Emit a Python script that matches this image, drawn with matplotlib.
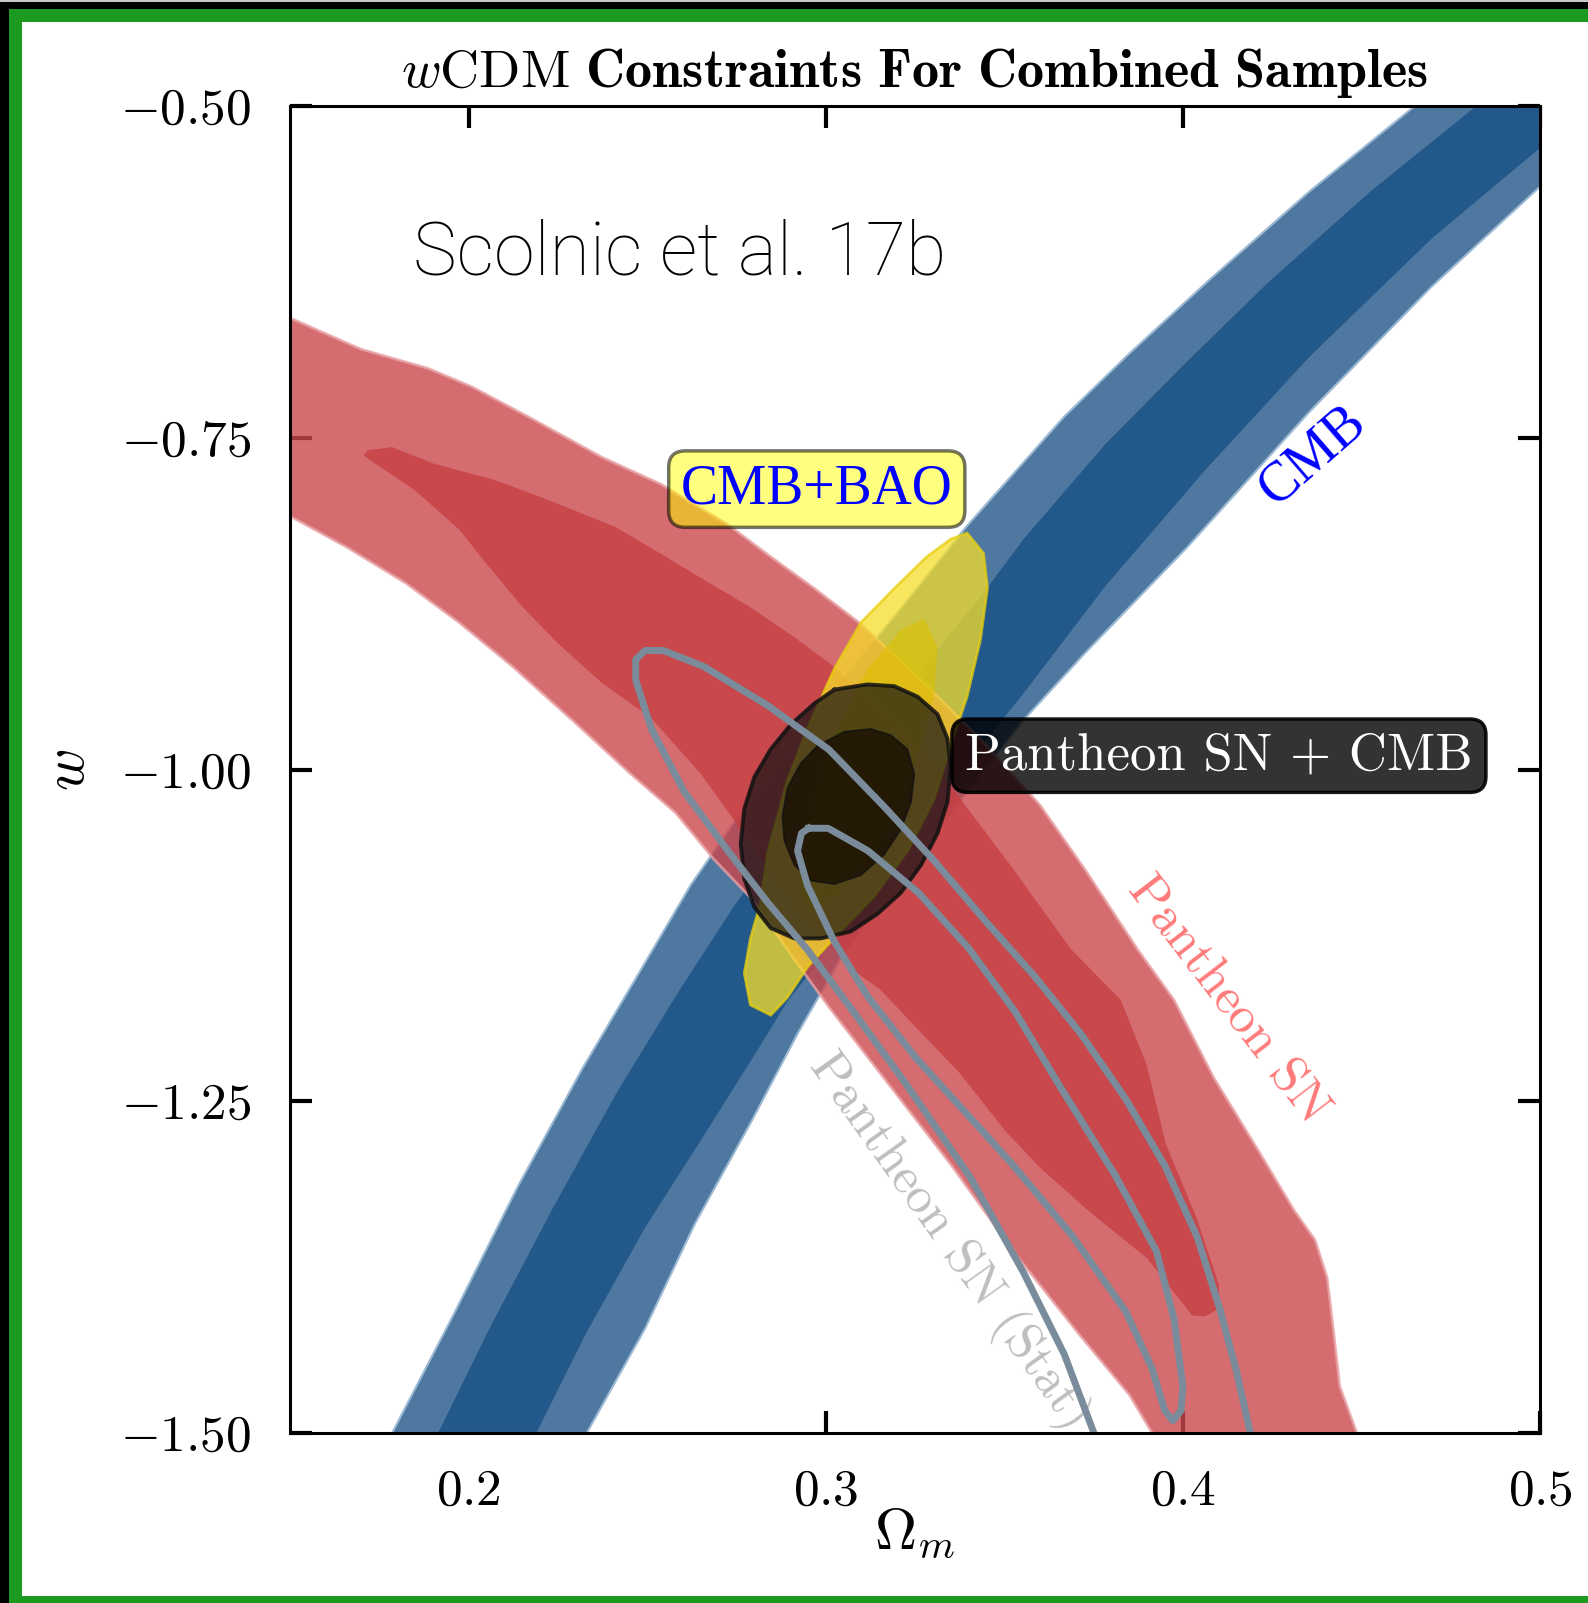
import matplotlib
matplotlib.use('Agg')
import matplotlib.pyplot as plt
from matplotlib.patches import Rectangle

plt.rcParams['mathtext.fontset'] = 'cm'
plt.rcParams['font.family'] = ['cmr10', 'DejaVu Sans']
plt.rcParams['axes.formatter.use_mathtext'] = True

# ---------------- data (Omega_m, w) contour boundaries ----------------
cmb_outer_om = [0.1749, 0.1786, 0.1964, 0.2139, 0.2319, 0.2480, 0.2623, 0.2752, 0.2895, 0.3038, 0.3210,
                0.3393, 0.3668, 0.3851, 0.4078, 0.4353, 0.4639, 0.4699, 0.52, 0.5071, 0.5000, 0.4696,
                0.4353, 0.4012, 0.3725, 0.3554, 0.3359, 0.3181, 0.3038, 0.2923, 0.2795, 0.2634, 0.2494,
                0.2331, 0.2293]
cmb_outer_w = [-1.5215, -1.5, -1.4076, -1.3137, -1.2252, -1.1520, -1.0866, -1.0365, -0.9865, -0.9349, -0.8787,
               -0.8172, -0.7340, -0.6863, -0.6301, -0.5647, -0.5023, -0.4885, -0.48, -0.5439, -0.5608, -0.6363,
               -0.7309, -0.8326, -0.9126, -0.9627, -1.0296, -1.0904, -1.1443, -1.1982, -1.2637, -1.3422, -1.4214,
               -1.5, -1.5215]

cmb_inner_om = [0.1878, 0.1915, 0.2061, 0.2236, 0.2416, 0.2588, 0.2740, 0.2923, 0.3095, 0.3267, 0.3439,
                0.3554, 0.3783, 0.4012, 0.4238, 0.4524, 0.4811, 0.4871, 0.52, 0.5043, 0.5000, 0.4696,
                0.4353, 0.4066, 0.3783, 0.3554, 0.3353, 0.3181, 0.3038, 0.2892, 0.2795, 0.2646, 0.2494,
                0.2331, 0.2190, 0.2150]
cmb_inner_w = [-1.5215, -1.5, -1.4199, -1.3306, -1.2429, -1.1674, -1.1043, -1.0365, -0.9788, -0.9249, -0.8680,
               -0.8264, -0.7548, -0.6925, -0.6332, -0.5647, -0.5023, -0.4885, -0.48, -0.5208, -0.5316, -0.6001,
               -0.6894, -0.7733, -0.8618, -0.9426, -1.0096, -1.0712, -1.1251, -1.1751, -1.2175, -1.2813, -1.3453,
               -1.4238, -1.5, -1.5215]

sn_outer_om = [0.1434, 0.1503, 0.1698, 0.1887, 0.2010, 0.2187, 0.2374, 0.2537, 0.2723, 0.2849, 0.2975,
               0.3098, 0.3267, 0.3439, 0.3599, 0.3725, 0.3874, 0.3975, 0.4086, 0.4212, 0.4313, 0.4370,
               0.4404, 0.4421, 0.4439, 0.4487, 0.4527, 0.3955, 0.3914, 0.3851, 0.3711, 0.3525, 0.3350,
               0.3175, 0.3009, 0.2903, 0.2795, 0.2686, 0.2580, 0.2448, 0.2293, 0.2124, 0.1975, 0.1824,
               0.1660, 0.1503, 0.1434]
sn_outer_w = [-0.6524, -0.6601, -0.6832, -0.6978, -0.7117, -0.7371, -0.7648, -0.7848, -0.8149, -0.8403, -0.8649,
              -0.8903, -0.9326, -0.9788, -1.0265, -1.0750, -1.1359, -1.1736, -1.2321, -1.2875, -1.3329, -1.3545,
              -1.3830, -1.4214, -1.4646, -1.5, -1.5292, -1.5292, -1.5, -1.4715, -1.4261, -1.3630, -1.2975,
              -1.2367, -1.1790, -1.1397, -1.0981, -1.0674, -1.0327, -1.0019, -0.9634, -0.9226, -0.8895, -0.8595,
              -0.8326, -0.8095, -0.7995]

sn_inner_om = [0.1706, 0.1718, 0.1786, 0.1901, 0.2073, 0.2225, 0.2411, 0.2537, 0.2660, 0.2786, 0.2912,
               0.3024, 0.3181, 0.3353, 0.3525, 0.3688, 0.3826, 0.3900, 0.3952, 0.4038, 0.4101, 0.4101,
               0.4063, 0.4026, 0.3900, 0.3737, 0.3599, 0.3502, 0.3376, 0.3250, 0.3153, 0.3061, 0.2923,
               0.2780, 0.2651, 0.2511, 0.2374, 0.2250, 0.2150, 0.2050, 0.1975, 0.1849, 0.1738]
sn_inner_w = [-0.7633, -0.7594, -0.7571, -0.7694, -0.7818, -0.7971, -0.8172, -0.8372, -0.8572, -0.8772, -0.9003,
              -0.9226, -0.9596, -1.0135, -1.0750, -1.1359, -1.1736, -1.2236, -1.2821, -1.3375, -1.3883, -1.4061,
              -1.4122, -1.4114, -1.3683, -1.3329, -1.2998, -1.2721, -1.2290, -1.1936, -1.1659, -1.1482, -1.1058,
              -1.0520, -1.0035, -0.9611, -0.9349, -0.9049, -0.8772, -0.8449, -0.8195, -0.7894, -0.7694]

bao_outer_om = [0.3396, 0.3442, 0.3453, 0.3433, 0.3396, 0.3350, 0.3304, 0.3230, 0.3135, 0.3041, 0.2949,
                0.2892, 0.2846, 0.2789, 0.2772, 0.2789, 0.2817, 0.2838, 0.2892, 0.2949, 0.3024, 0.3098,
                0.3193, 0.3284, 0.3350]
bao_outer_w = [-0.8218, -0.8372, -0.8633, -0.9026, -0.9449, -0.9819, -1.0219, -1.0612, -1.0958, -1.1220, -1.1489,
               -1.1720, -1.1851, -1.1774, -1.1536, -1.1274, -1.1012, -1.0620, -1.0088, -0.9688, -0.9242, -0.8895,
               -0.8633, -0.8395, -0.8264]

bao_inner_om = [0.3276, 0.3313, 0.3304, 0.3267, 0.3210, 0.3124, 0.3024, 0.2952, 0.2923, 0.2938, 0.2981,
                0.3038, 0.3118, 0.3210]
bao_inner_w = [-0.8864, -0.9080, -0.9426, -0.9827, -1.0289, -1.0674, -1.0981, -1.1074, -1.0904, -1.0520, -1.0058,
               -0.9634, -0.9242, -0.8949]

comb_outer_om = [0.3024, 0.3117, 0.3192, 0.3257, 0.3313, 0.3341, 0.3350, 0.3341, 0.3313, 0.3267, 0.3210,
                 0.3145, 0.3070, 0.2986, 0.2912, 0.2846, 0.2800, 0.2772, 0.2762, 0.2772, 0.2800, 0.2846,
                 0.2902, 0.2968]
comb_outer_w = [-0.9398, -0.9359, -0.9372, -0.9451, -0.9583, -0.9767, -0.9979, -1.0244, -1.0481, -1.0719, -1.0930,
                -1.1088, -1.1221, -1.1273, -1.1273, -1.1195, -1.1036, -1.0824, -1.0560, -1.0296, -1.0058, -0.9847,
                -0.9662, -0.9503]

comb_inner_om = [0.2977, 0.3052, 0.3126, 0.3182, 0.3229, 0.3248, 0.3239, 0.3210, 0.3164, 0.3098, 0.3024,
                 0.2958, 0.2912, 0.2884, 0.2879, 0.2893, 0.2930]
comb_inner_w = [-0.9821, -0.9715, -0.9694, -0.9741, -0.9847, -1.0032, -1.0244, -1.0454, -1.0640, -1.0797, -1.0864,
                -1.0837, -1.0719, -1.0534, -1.0349, -1.0138, -0.9953]

stat_outer_om = [0.3797, 0.3751, 0.3668, 0.3554, 0.3405, 0.3224, 0.3072, 0.2949, 0.2838, 0.2726, 0.2603,
                 0.2511, 0.2468, 0.2468, 0.2494, 0.2545, 0.2660, 0.2838, 0.3009, 0.3164, 0.3304, 0.3445,
                 0.3585, 0.3714, 0.3840, 0.3949, 0.4040, 0.4103, 0.4149, 0.4189, 0.4206]
stat_outer_w = [-1.5292, -1.5, -1.4407, -1.3791, -1.3075, -1.2367, -1.1805, -1.1359, -1.1004, -1.0612, -1.0165,
                -0.9688, -0.9326, -0.9172, -0.9103, -0.9103, -0.9226, -0.9519, -0.9850, -1.0281, -1.0689, -1.1135,
                -1.1559, -1.1990, -1.2483, -1.2983, -1.3522, -1.4061, -1.4522, -1.5, -1.5292]

stat_inner_om = [0.2952, 0.3007, 0.3118, 0.3259, 0.3399, 0.3531, 0.3651, 0.3811, 0.3926, 0.3975, 0.4000,
                 0.3995, 0.3972, 0.3949, 0.3914, 0.3840, 0.3688, 0.3525, 0.3396, 0.3253, 0.3118, 0.3024,
                 0.2949, 0.2921, 0.2932, 0.2952]
stat_inner_w = [-1.0443, -1.0443, -1.0612, -1.0927, -1.1343, -1.1828, -1.2367, -1.3060, -1.3630, -1.4138, -1.4646,
                -1.4830, -1.4907, -1.4830, -1.4515, -1.4084, -1.3506, -1.2983, -1.2598, -1.2175, -1.1713, -1.1297,
                -1.0874, -1.0612, -1.0481, -1.0443]

x_ticks = [0.2, 0.3, 0.4, 0.5]
x_ticklabels = [r'$0.2$', r'$0.3$', r'$0.4$', r'$0.5$']
y_ticks = [-0.5, -0.75, -1.0, -1.25, -1.5]
y_ticklabels = [r'$-0.50$', r'$-0.75$', r'$-1.00$', r'$-1.25$', r'$-1.50$']

# ---------------- figure ----------------
W, H = 1588, 1603
fig = plt.figure(figsize=(W / 100, H / 100), dpi=100)
fig.patch.set_facecolor('white')

green = '#1b9a1f'
def frect(x0, y0, x1, y1, color):
    fig.add_artist(Rectangle((x0 / W, 1 - y1 / H), (x1 - x0) / W, (y1 - y0) / H,
                             transform=fig.transFigure, facecolor=color, edgecolor='none', zorder=0))
frect(0, 0, W, 2, '#c8c8c8')
frect(0, 2, W, 9, 'black')
frect(0, 2, 9, H, 'black')
frect(9, 9, W, 22, green)
frect(9, 9, 22, H, green)
frect(9, H - 7, W, H, green)

ax = fig.add_axes([290 / W, 1 - 1433 / H, 1250 / W, 1327 / H])
ax.set_xlim(0.15, 0.5)
ax.set_ylim(-1.5, -0.5)

# CMB
ax.fill(cmb_outer_om, cmb_outer_w, facecolor='#4f78a0', edgecolor='#9cb9d3', lw=1.5, zorder=2)
ax.fill(cmb_inner_om, cmb_inner_w, facecolor='#23588a', edgecolor='none', zorder=2.1)
# Pantheon SN
ax.fill(sn_outer_om, sn_outer_w, facecolor='#ca474c', alpha=0.8, edgecolor='#e8a0a3', lw=2, zorder=3)
ax.fill(sn_inner_om, sn_inner_w, facecolor='#c53f43', alpha=0.8, edgecolor='none', zorder=3.1)
# CMB+BAO
ax.fill(bao_outer_om, bao_outer_w, facecolor='#f7de2a', alpha=0.75, edgecolor='#e8cf10', lw=2, zorder=4)
ax.fill(bao_inner_om, bao_inner_w, facecolor='#dcc000', alpha=0.6, edgecolor='none', zorder=4.1)
# Pantheon SN + CMB
ax.fill(comb_outer_om, comb_outer_w, facecolor='#141414', alpha=0.7, zorder=5)
ax.plot(comb_outer_om + comb_outer_om[:1], comb_outer_w + comb_outer_w[:1], color='#111111', lw=2.8,
        alpha=0.85, zorder=5.05, solid_joinstyle='round')
ax.fill(comb_inner_om, comb_inner_w, facecolor='#140a00', alpha=0.75, zorder=5.1)
ax.plot(comb_inner_om + comb_inner_om[:1], comb_inner_w + comb_inner_w[:1], color='#111111', lw=1.2,
        alpha=0.8, zorder=5.15)
# Pantheon SN (Stat) lines
ax.plot(stat_outer_om, stat_outer_w, color='#7a8c9b', lw=5, zorder=6, solid_joinstyle='round',
        solid_capstyle='round')
ax.plot(stat_inner_om, stat_inner_w, color='#7a8c9b', lw=5, zorder=6, solid_joinstyle='round')

# ---------------- axes styling ----------------
ax.set_xticks(x_ticks)
ax.set_xticklabels(x_ticklabels)
ax.set_yticks(y_ticks)
ax.set_yticklabels(y_ticklabels)
ax.tick_params(direction='in', length=16, width=3, top=True, right=True, labelsize=37, color='black')
ax.tick_params(axis='x', pad=26)
ax.tick_params(axis='y', pad=28)
for s in ax.spines.values():
    s.set_linewidth(2.2)
    s.set_zorder(10)
ax.set_xlabel(r'$\Omega_m$', fontsize=42, labelpad=-6)
ax.set_ylabel(r'$w$', fontsize=42, labelpad=18)
ax.set_title(r'$w\mathrm{CDM}\ \mathbf{Constraints\ For\ Combined\ Samples}$', fontsize=39, pad=14)

# ---------------- annotations ----------------
ax.text(0.1844, -0.627, 'Scolnic et al. 17b', family=['Roboto', 'DejaVu Sans'], fontweight='light',
        fontsize=53, ha='left', va='baseline', zorder=8)
ax.text(0.2975, -0.7887, 'CMB+BAO', family=['Liberation Serif'], fontsize=40, color='#0000ff',
        ha='center', va='center', zorder=9,
        bbox=dict(boxstyle='round,pad=0.22,rounding_size=0.3', facecolor=(1, 1, 0, 0.5),
                  edgecolor=(0, 0, 0, 0.55), linewidth=2.5))
ax.text(0.4101, -0.9896, 'Pantheon SN + CMB', family=['cmr10'], fontsize=38, color='white',
        ha='center', va='center', zorder=9,
        bbox=dict(boxstyle='round,pad=0.25,rounding_size=0.3', facecolor=(0, 0, 0, 0.8),
                  edgecolor=(0, 0, 0, 0.9), linewidth=2.5))
ax.text(0.4364, -0.7633, 'CMB', family=['Liberation Serif'], fontsize=40, color='#0000ff',
        rotation=41, ha='center', va='center', rotation_mode='anchor', zorder=8)
ax.text(0.4126, -1.1736, 'Pantheon SN', family=['cmr10'], fontsize=37, color='#ff7a7a',
        rotation=-52.5, ha='center', va='center', rotation_mode='anchor', zorder=8)
ax.text(0.2981, -1.2175, 'Pantheon SN (Stat)', family=['cmr10'], fontsize=37, color='#bebebe',
        rotation=-54.6, ha='left', va='center', rotation_mode='anchor', zorder=5.5, clip_on=True)

fig.savefig('out.png', dpi=100, facecolor='white')
